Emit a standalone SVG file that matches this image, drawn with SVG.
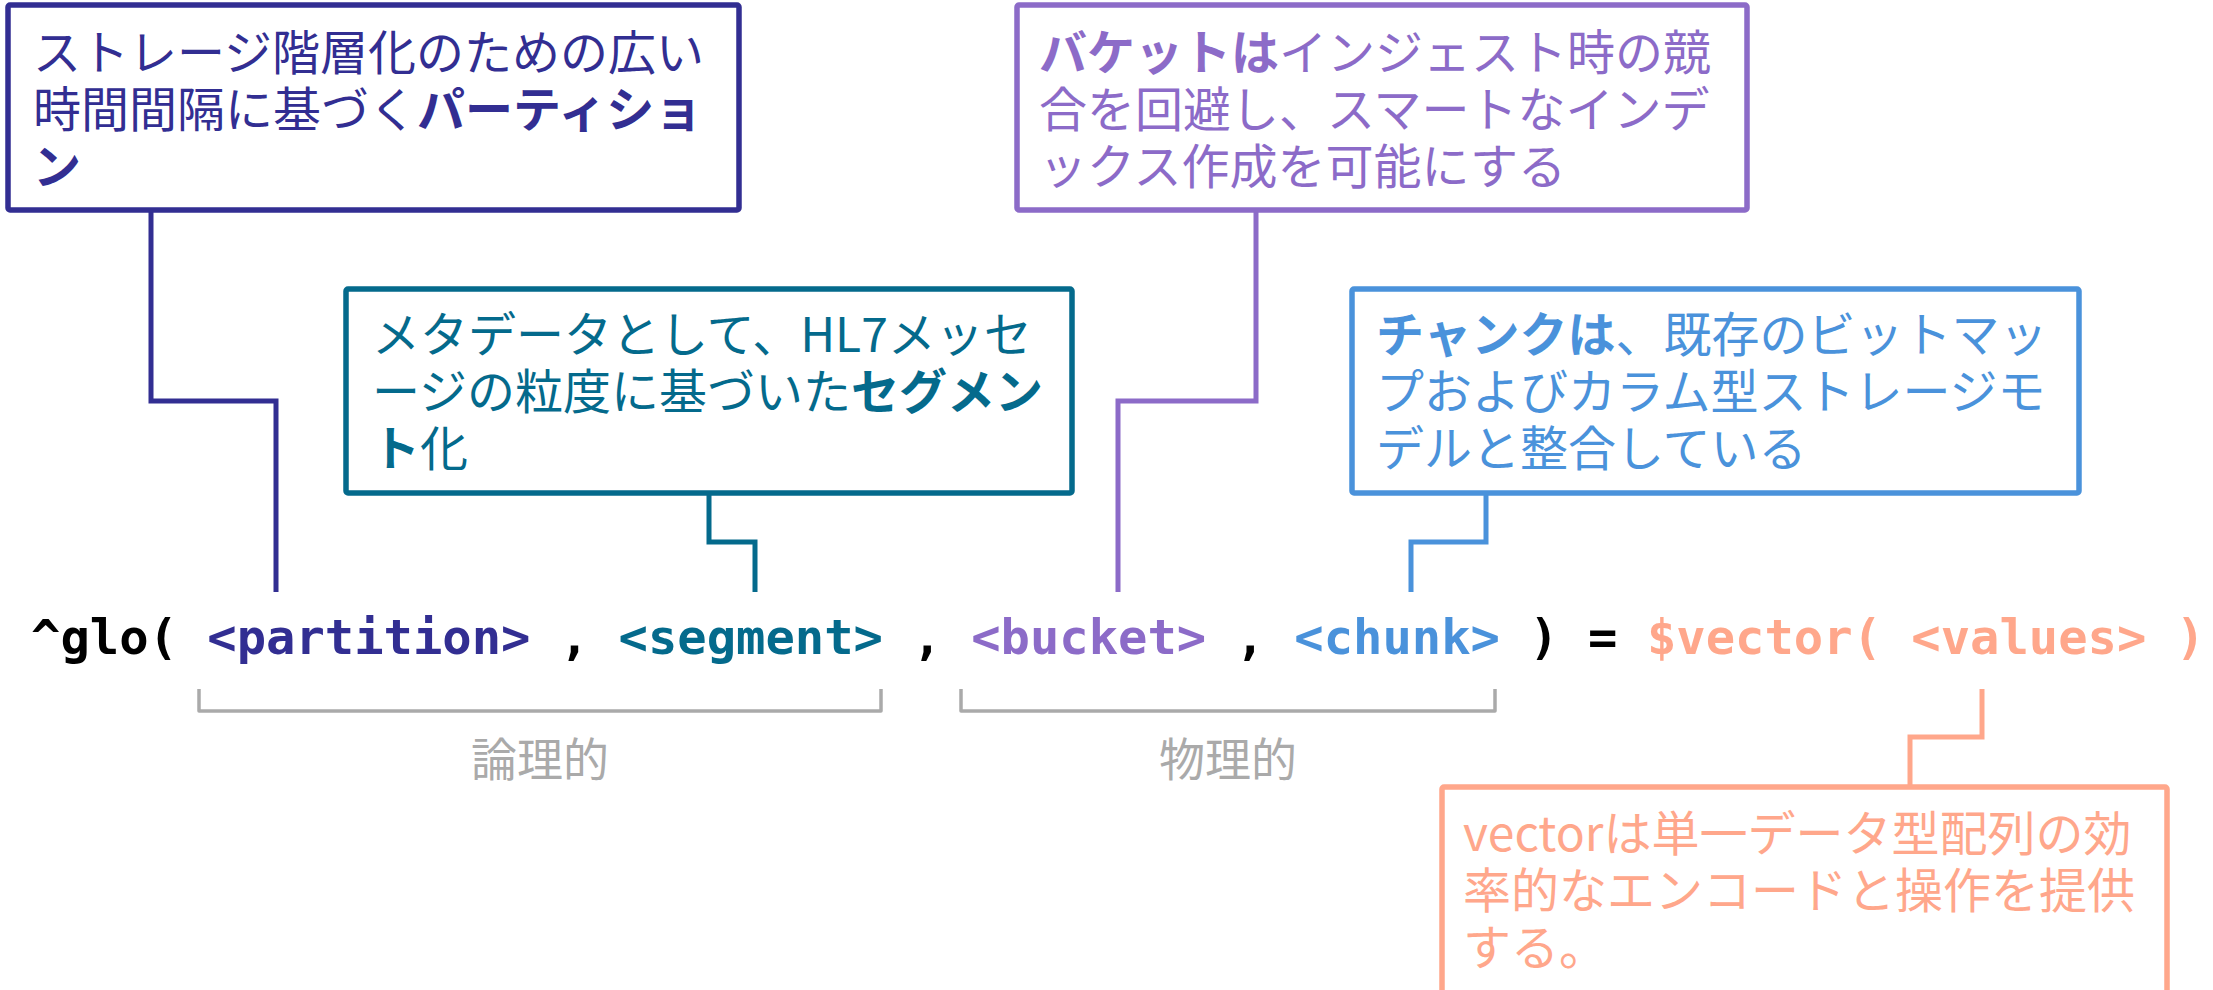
<svg xmlns="http://www.w3.org/2000/svg" width="2213" height="990" viewBox="0 0 2213 990">
<style>
.box{fill:#ffffff;stroke-width:5.5;stroke-linejoin:round}
.con{fill:none;stroke-width:5;stroke-linejoin:miter}
.t{font-family:"Noto Sans CJK JP","Noto Sans",sans-serif;font-size:48px}
.b{font-weight:bold}
.mono{font-family:"DejaVu Sans Mono","Liberation Mono",monospace;font-size:48.8px;font-weight:bold;white-space:pre}
.brk{fill:none;stroke:#aaaaaa;stroke-width:3.5;stroke-linejoin:round}
.lbl{font-family:"Noto Sans CJK JP","Noto Sans",sans-serif;font-size:46px;fill:#aaaaaa;text-anchor:middle}
.navy{stroke:#322e92}.teal{stroke:#046a8c}.purple{stroke:#8c6bc8}.blue{stroke:#4a92db}.salmon{stroke:#ffa78b}
</style>
<rect width="2213" height="990" fill="#ffffff"/>
<g id="connectors">
<path class="con navy" d="M151,210 V401 H276 V592"/>
<path class="con teal" d="M709,493 V542 H755 V592"/>
<path class="con purple" d="M1256,210 V401 H1118 V592"/>
<path class="con blue" d="M1486,493 V542 H1411 V592"/>
<path class="con salmon" d="M1982,689 V737 H1910 V787"/>
</g>
<g id="partition-note">
<rect class="box navy" x="8" y="5" width="731" height="205" rx="2"/>
<text class="t" fill="#322e92"><tspan x="33" y="70">ストレージ階層化のための広い</tspan><tspan x="33" y="127">時間間隔に基づく<tspan class="b">パーティショ</tspan></tspan><tspan x="33" y="184" class="b">ン</tspan></text>
</g>
<g id="segment-note">
<rect class="box teal" x="346" y="289" width="726" height="204" rx="2"/>
<text class="t" fill="#046a8c"><tspan x="372" y="352">メタデータとして、HL7メッセ</tspan><tspan x="372" y="409">ージの粒度に基づいた<tspan class="b">セグメン</tspan></tspan><tspan x="372" y="466"><tspan class="b">ト</tspan>化</tspan></text>
</g>
<g id="bucket-note">
<rect class="box purple" x="1017" y="5" width="730" height="205" rx="2"/>
<text class="t" fill="#8c6bc8"><tspan x="1039" y="70"><tspan class="b">バケットは</tspan>インジェスト時の競</tspan><tspan x="1039" y="127">合を回避し、スマートなインデ</tspan><tspan x="1039" y="184">ックス作成を可能にする</tspan></text>
</g>
<g id="chunk-note">
<rect class="box blue" x="1352" y="289" width="727" height="204" rx="2"/>
<text class="t" fill="#4a92db"><tspan x="1376" y="352"><tspan class="b">チャンクは</tspan>、既存のビットマッ</tspan><tspan x="1376" y="409">プおよびカラム型ストレージモ</tspan><tspan x="1376" y="466">デルと整合している</tspan></text>
</g>
<g id="vector-note">
<rect class="box salmon" x="1442" y="787" width="725" height="230" rx="2"/>
<text class="t" fill="#ffa78b"><tspan x="1463" y="851">vectorは単一データ型配列の効</tspan><tspan x="1463" y="908">率的なエンコードと操作を提供</tspan><tspan x="1463" y="965">する。</tspan></text>
</g>
<g id="formula">
<text class="mono" x="31" y="654" xml:space="preserve"><tspan fill="#000000">^glo( </tspan><tspan fill="#322e92">&lt;partition&gt;</tspan><tspan fill="#000000"> , </tspan><tspan fill="#046a8c">&lt;segment&gt;</tspan><tspan fill="#000000"> , </tspan><tspan fill="#8c6bc8">&lt;bucket&gt;</tspan><tspan fill="#000000"> , </tspan><tspan fill="#4a92db">&lt;chunk&gt;</tspan><tspan fill="#000000"> ) = </tspan><tspan fill="#ffa78b">$vector( &lt;values&gt; )</tspan></text>
</g>
<g id="logical-group">
<path class="brk" d="M199,689 V711 H881 V689"/>
<text class="lbl" x="540" y="776">論理的</text>
</g>
<g id="physical-group">
<path class="brk" d="M961,689 V711 H1495 V689"/>
<text class="lbl" x="1228" y="776">物理的</text>
</g>
</svg>
